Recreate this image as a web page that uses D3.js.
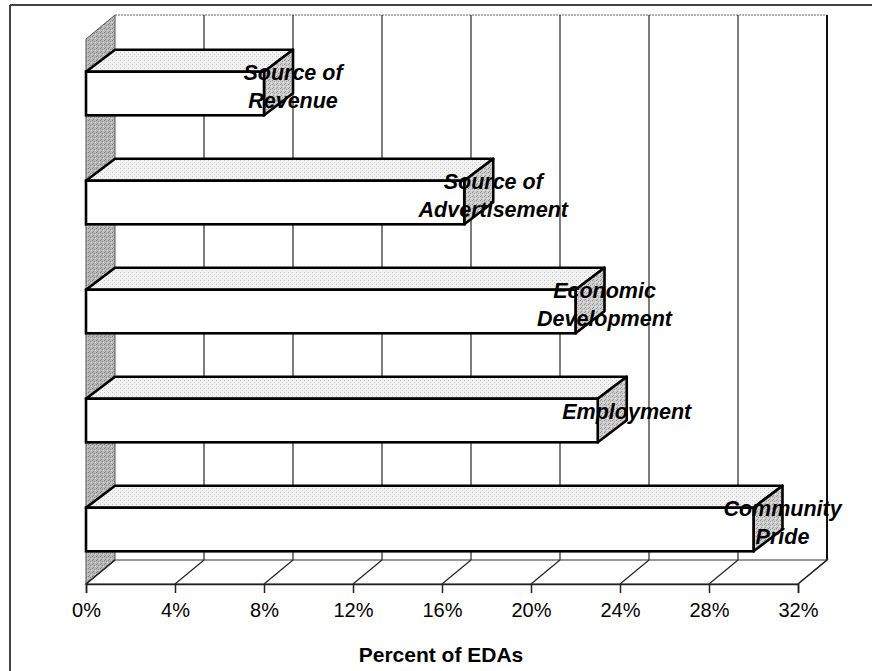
<!DOCTYPE html>
<html>
<head>
<meta charset="utf-8">
<script src="https://cdn.jsdelivr.net/npm/d3@7"></script>
<style>
  html, body { margin: 0; padding: 0; background: #fff; }
  svg { display: block; }
  text { font-family: "Liberation Sans", Arial, sans-serif; fill: #000; }
</style>
</head>
<body>
<svg id="chart" width="872" height="671"></svg>
<script>
// Reasons EDAs give for their involvement (percent of EDAs)
const categories = [
  "Source of Revenue",
  "Source of Advertisement",
  "Economic Development",
  "Employment",
  "Community Pride"
];
const labelLines = [
  ["Source of", "Revenue"],
  ["Source of", "Advertisement"],
  ["Economic", "Development"],
  ["Employment"],
  ["Community", "Pride"]
];
const values = [8, 17, 22, 23, 30];
const tickValues = [0, 4, 8, 12, 16, 20, 24, 28, 32];
const axisTitle = "Percent of EDAs";

const svg = d3.select("#chart");

// front plane of the 3-D plot
const plotLeft = 86, plotRight = 798, plotTop = 39, plotBottom = 584;
// depth offsets of the walls and of the bars
const wallDx = 29, wallDy = -24;
const barDx = 29, barDy = -22;

const x = d3.scaleLinear().domain([0, 32]).range([plotLeft, plotRight]);
const y = d3.scaleBand().domain(categories).range([plotTop, plotBottom])
  .paddingInner(0.6).paddingOuter(0.3);

// stipple textures for the shaded faces
const defs = svg.append("defs");
function stipple(id, base, dots) {
  const p = defs.append("pattern").attr("id", id)
    .attr("patternUnits", "userSpaceOnUse").attr("width", 4).attr("height", 4);
  p.append("rect").attr("width", 4).attr("height", 4).attr("fill", base);
  dots.forEach(([dx, dy, col]) =>
    p.append("rect").attr("x", dx).attr("y", dy).attr("width", 1).attr("height", 1).attr("fill", col));
}
stipple("topFace", "#f2f2f2", [[0, 0, "#c2c2c2"], [2, 2, "#d2d2d2"]]);
stipple("sideFace", "#cdcdcd", [[0, 0, "#8e8e8e"], [2, 1, "#a0a0a0"], [1, 3, "#9a9a9a"], [3, 2, "#e2e2e2"]]);
stipple("leftWall", "#b8b8b8", [[0, 0, "#7e7e7e"], [2, 1, "#8c8c8c"], [1, 3, "#909090"], [3, 2, "#d6d6d6"]]);

// outer frame (left and top edges)
svg.append("line").attr("x1", 10).attr("y1", 5).attr("x2", 10).attr("y2", 671)
  .attr("stroke", "#444").attr("stroke-width", 2);
svg.append("line").attr("x1", 10).attr("y1", 5).attr("x2", 872).attr("y2", 5)
  .attr("stroke", "#444").attr("stroke-width", 2);

const poly = pts => "M" + pts.map(p => p.join(",")).join("L") + "Z";

// back wall
svg.append("path")
  .attr("d", poly([[plotLeft + wallDx, plotTop + wallDy], [plotRight + wallDx, plotTop + wallDy],
                   [plotRight + wallDx, plotBottom + wallDy], [plotLeft + wallDx, plotBottom + wallDy]]))
  .attr("fill", "#fff").attr("stroke", "none");
svg.append("line")
  .attr("x1", plotLeft + wallDx).attr("x2", plotRight + wallDx)
  .attr("y1", plotTop + wallDy).attr("y2", plotTop + wallDy)
  .attr("stroke", "#666").attr("stroke-width", 1).attr("stroke-dasharray", "2,1");

// vertical gridlines on the back wall
svg.append("g").selectAll("line").data(tickValues.slice(1)).join("line")
  .attr("x1", d => x(d) + wallDx).attr("x2", d => x(d) + wallDx)
  .attr("y1", plotTop + wallDy).attr("y2", plotBottom + wallDy)
  .attr("stroke", "#111")
  .attr("stroke-width", d => d === 32 ? 2 : 1.1);

// left side wall
svg.append("path")
  .attr("d", poly([[plotLeft, plotTop], [plotLeft + wallDx, plotTop + wallDy],
                   [plotLeft + wallDx, plotBottom + wallDy], [plotLeft, plotBottom]]))
  .attr("fill", "url(#leftWall)").attr("stroke", "#555").attr("stroke-width", 1);

// floor
svg.append("path")
  .attr("d", poly([[plotLeft, plotBottom], [plotLeft + wallDx, plotBottom + wallDy],
                   [plotRight + wallDx, plotBottom + wallDy], [plotRight, plotBottom]]))
  .attr("fill", "#fff").attr("stroke", "#333").attr("stroke-width", 1.2);
svg.append("g").selectAll("line").data(tickValues).join("line")
  .attr("x1", d => x(d)).attr("y1", plotBottom)
  .attr("x2", d => x(d) + wallDx).attr("y2", plotBottom + wallDy)
  .attr("stroke", "#222").attr("stroke-width", 1.2);

// value axis along the front edge of the floor
const axis = d3.axisBottom(x).tickValues(tickValues)
  .tickFormat(d => d + "%").tickSize(9).tickPadding(10);
const axisG = svg.append("g").attr("transform", `translate(0,${plotBottom})`).call(axis);
axisG.select(".domain").attr("stroke", "#222").attr("stroke-width", 1.5);
axisG.selectAll(".tick line").attr("stroke", "#222").attr("stroke-width", 1.5);
axisG.selectAll(".tick text")
  .attr("font-family", "Liberation Sans, Arial, sans-serif")
  .attr("font-size", 20).attr("fill", "#000");

// 3-D bars
const bars = svg.append("g").selectAll("g").data(categories).join("g");
bars.each(function (c, i) {
  const g = d3.select(this);
  const x0 = x(0), x1 = x(values[i]);
  const y0 = y(c), y1 = y(c) + y.bandwidth();
  // top face
  g.append("path")
    .attr("d", poly([[x0, y0], [x0 + barDx, y0 + barDy], [x1 + barDx, y0 + barDy], [x1, y0]]))
    .attr("fill", "url(#topFace)").attr("stroke", "#000").attr("stroke-width", 2.6)
    .attr("stroke-linejoin", "round");
  // end face
  g.append("path")
    .attr("d", poly([[x1, y0], [x1 + barDx, y0 + barDy], [x1 + barDx, y1 + barDy], [x1, y1]]))
    .attr("fill", "url(#sideFace)").attr("stroke", "#000").attr("stroke-width", 2.6)
    .attr("stroke-linejoin", "round");
  // front face
  g.append("rect")
    .attr("x", x0).attr("y", y0).attr("width", x1 - x0).attr("height", y1 - y0)
    .attr("fill", "#fff").attr("stroke", "#000").attr("stroke-width", 2.6);
});

// category labels at the far end of each bar
const labels = svg.append("g").selectAll("text").data(categories).join("text")
  .attr("text-anchor", "middle")
  .attr("font-size", 21.5).attr("font-weight", "bold").attr("font-style", "italic");
labels.each(function (c, i) {
  const lines = labelLines[i];
  const t = d3.select(this);
  const cx = x(values[i]) + barDx;
  const cy = y(c) + y.bandwidth() / 2;
  lines.forEach((ln, k) => {
    const off = lines.length === 1 ? -2 : (k === 0 ? -14 : 14);
    t.append("tspan").attr("x", cx).attr("y", cy + off).text(ln);
  });
});

// axis title
svg.append("text")
  .attr("x", x(16) - 1).attr("y", 662)
  .attr("text-anchor", "middle")
  .attr("font-size", 21).attr("font-weight", "bold")
  .text(axisTitle);
</script>
</body>
</html>
